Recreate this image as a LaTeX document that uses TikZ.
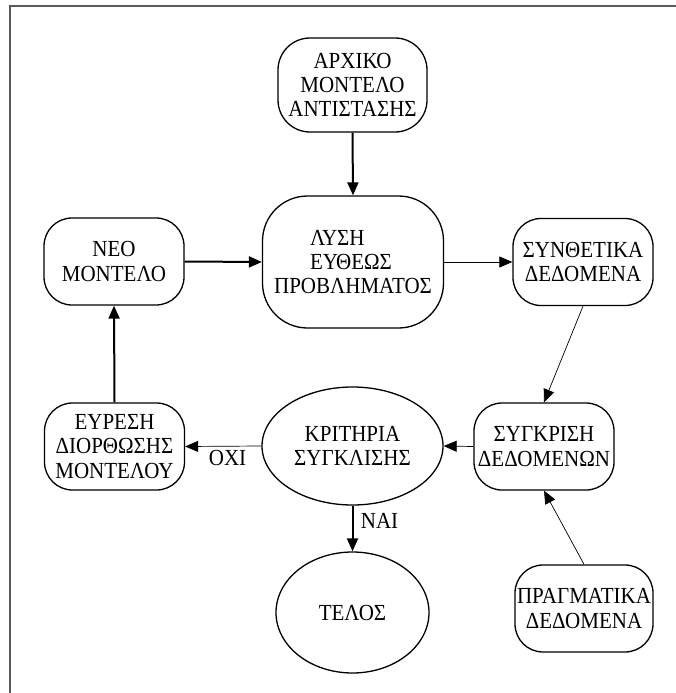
\documentclass[tikz,border=0pt]{standalone}
\usepackage{fontspec}
\setmainfont{Liberation Serif}[FakeStretch=0.913]
\usetikzlibrary{arrows.meta,shapes.geometric}
\definecolor{framegray}{HTML}{5A5A5A}
\begin{document}
\begin{tikzpicture}[x=1pt,y=-1pt,
  txt/.style={font=\fontsize{23}{24.3}\selectfont},
  rbox/.style={txt,draw,line width=1.3pt,rounded corners=28pt,inner sep=0pt,align=center,
    minimum width=140pt,minimum height=87pt},
  oval/.style={txt,draw,line width=1.3pt,ellipse,inner sep=0pt,align=center},
  thickarrow/.style={line width=2pt,-{Triangle[length=13pt,width=11pt]}},
  thinarrow/.style={line width=0.7pt,-{Triangle[length=13pt,width=11pt]}},
  framestyle/.style={draw=framegray,line width=2pt}
]
\useasboundingbox (0,0) rectangle (676,693);
\draw[framestyle] (676,6.5) -- (9.5,6.5) -- (9.5,693);

\node[rbox,minimum width=149pt,minimum height=94pt,rounded corners=32pt] (arch) at (352.5,85)
  {ΑΡΧΙΚΟ\\ΜΟΝΤΕΛΟ\\ΑΝΤΙΣΤΑΣΗΣ};
\node[rbox,minimum width=181pt,minimum height=132pt,rounded corners=45pt] (lysi) at (353,262)
  {\makebox[86pt][l]{ΛΥΣΗ}\\\makebox[86pt][l]{ΕΥΘΕΩΣ}\\ΠΡΟΒΛΗΜΑΤΟΣ};
\node[rbox] (neo) at (114,261.5) {ΝΕΟ\\ΜΟΝΤΕΛΟ};
\node[rbox] (synth) at (583,262) {ΣΥΝΘΕΤΙΚΑ\\ΔΕΔΟΜΕΝΑ};
\node[rbox] (eyr) at (114.5,446.5) {ΕΥΡΕΣΗ\\ΔΙΟΡΘΩΣΗΣ\\ΜΟΝΤΕΛΟΥ};
\node[oval,minimum width=181pt,minimum height=118pt] (krit) at (352.5,446) {ΚΡΙΤΗΡΙΑ\\ΣΥΓΚΛΙΣΗΣ};
\node[rbox] (sygk) at (544,446.5) {ΣΥΓΚΡΙΣΗ\\ΔΕΔΟΜΕΝΩΝ};
\node[oval,minimum width=153pt,minimum height=121pt] (telos) at (352.5,612.5) {ΤΕΛΟΣ};
\node[rbox,minimum width=138pt] (pragm) at (584,608.5) {ΠΡΑΓΜΑΤΙΚΑ\\ΔΕΔΟΜΕΝΑ};

\draw[thickarrow] (arch.south) -- (lysi.north);
\draw[thickarrow] (neo.east) -- (lysi.west);
\draw[thinarrow] (lysi.east) -- (synth.west);
\draw[thinarrow] (synth.south) -- (sygk.north);
\draw[thinarrow] (pragm.north) -- (sygk.south);
\draw[thinarrow] (sygk.west) -- (krit.east);
\draw[thinarrow] (krit.west) -- (eyr.east);
\draw[thickarrow] (krit.south) -- (telos.north);
\draw[thickarrow] (eyr.north) -- (neo.south);

\node[txt,anchor=base,inner sep=0pt] (oxi) at (227.5,465) {ΟΧΙ};
\node[txt,anchor=base,inner sep=0pt] (nai) at (379.5,528) {ΝΑΙ};
\end{tikzpicture}
\end{document}
